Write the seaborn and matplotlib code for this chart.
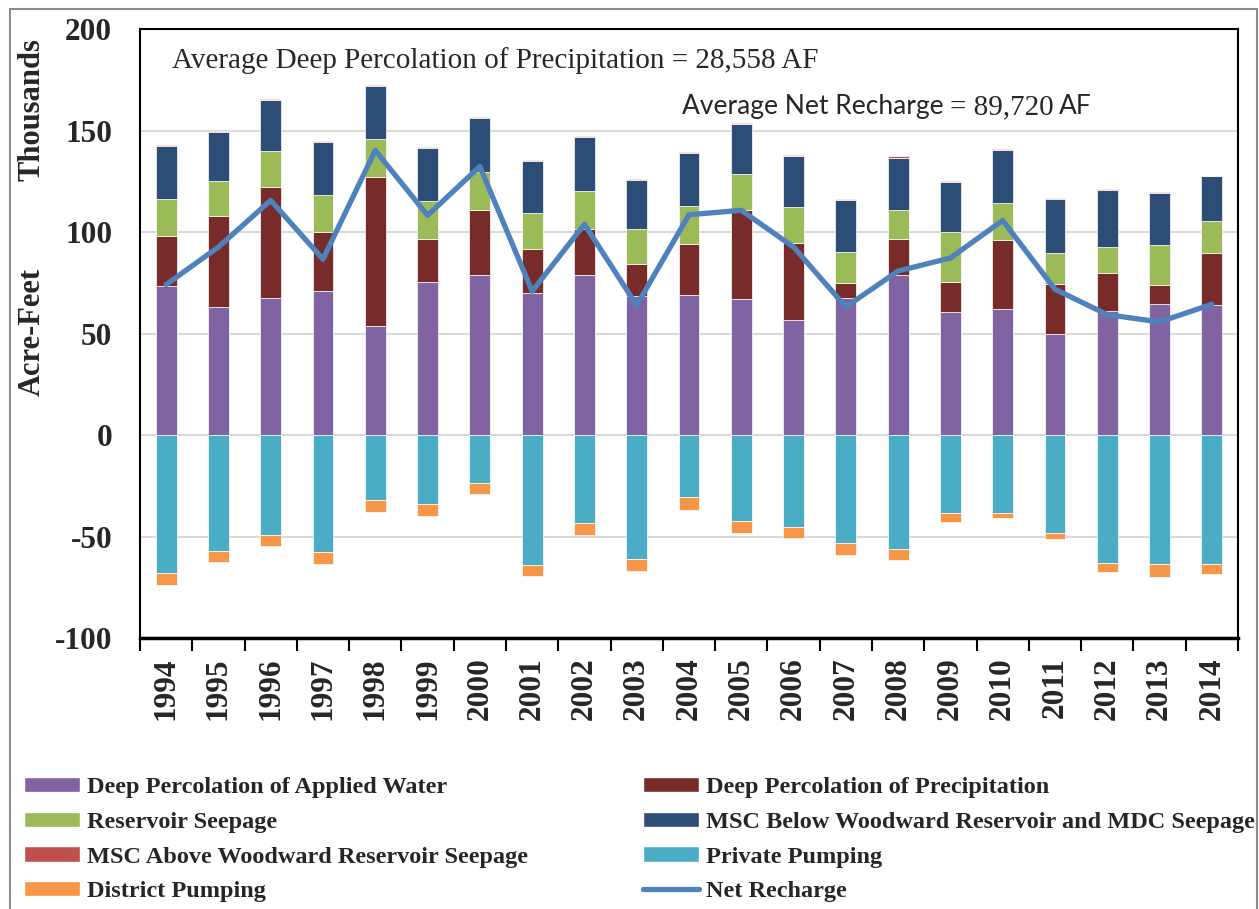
import numpy as np
import pandas as pd
import seaborn as sns
import matplotlib
matplotlib.use("Agg")
from matplotlib import pyplot as plt
from matplotlib.patches import Patch, Rectangle
from matplotlib.lines import Line2D

# values in thousands of acre-feet
years = [str(y) for y in range(1994, 2015)]

applied_water = [73.3, 63.3, 67.4, 71.1, 53.9, 75.2, 78.7, 70.1, 78.7, 68.4, 69.2,
                 67.0, 56.6, 67.7, 78.7, 60.5, 62.0, 49.7, 61.0, 64.4, 64.1]
precipitation = [24.7, 44.4, 54.7, 28.7, 73.1, 21.2, 32.1, 21.4, 22.6, 15.9, 24.9,
                 43.7, 38.0, 7.2, 17.7, 15.1, 33.9, 24.7, 18.8, 9.5, 25.6]
reservoir_seepage = [18.4, 17.2, 17.7, 18.6, 18.6, 18.7, 18.9, 18.0, 18.9, 17.2, 18.7,
                     17.8, 17.9, 15.1, 14.4, 24.2, 18.4, 15.1, 12.8, 19.9, 15.5]
msc_below = [25.9, 24.3, 25.1, 25.9, 26.2, 26.4, 26.4, 25.4, 26.5, 24.2, 26.2,
             24.8, 25.0, 25.9, 25.9, 25.0, 26.0, 26.9, 28.2, 25.2, 22.3]
msc_above = [0.4, 0.5, 0.5, 0.5, 0.7, 0.5, 0.4, 0.5, 0.6, 0.5, 0.5,
             0.5, 0.6, 0.5, 0.5, 0.5, 0.6, 0.5, 0.5, 0.5, 0.3]
private_pumping = [-68.0, -57.0, -49.2, -57.7, -32.1, -34.1, -23.6, -63.8, -43.4, -61.1, -30.5,
                   -42.3, -45.2, -53.1, -56.1, -38.2, -38.2, -48.4, -63.1, -63.4, -63.4]
district_pumping = [-5.8, -5.6, -5.6, -5.7, -5.6, -5.9, -5.6, -5.7, -5.9, -5.8, -6.2,
                    -6.1, -5.3, -6.1, -5.7, -4.8, -2.9, -2.6, -4.4, -6.3, -5.3]
net_recharge = [74.1, 92.6, 115.6, 86.6, 140.2, 108.2, 132.3, 70.8, 103.8, 63.9, 108.5,
                110.7, 92.6, 63.1, 80.8, 87.2, 105.7, 71.8, 59.3, 55.7, 64.4]

labels = ["Deep Percolation of Applied Water",
          "Deep Percolation of Precipitation",
          "Reservoir Seepage",
          "MSC Below Woodward Reservoir and MDC Seepage",
          "MSC Above Woodward Reservoir Seepage",
          "Private Pumping",
          "District Pumping"]
colors = ["#8064A2", "#772C2A", "#9BBB59", "#2C4D75", "#C0504D", "#4BACC6", "#F79646"]
line_color = "#4F81BD"

sns.set_theme(style="white")
plt.rcParams['font.family'] = ['Liberation Serif', 'DejaVu Serif']
plt.rcParams['axes.unicode_minus'] = False

df = pd.DataFrame({
    labels[0]: applied_water,
    labels[1]: precipitation,
    labels[2]: reservoir_seepage,
    labels[3]: msc_below,
    labels[4]: msc_above,
    labels[5]: private_pumping,
    labels[6]: district_pumping,
}, index=years)

fig = plt.figure(figsize=(12.59, 9.09), dpi=100)
ax = fig.add_axes([0.1112, 0.2981, 0.8721, 0.6700])
ax.set_axisbelow(True)

# stacked bars, pandas stacks the negative pumping below zero on its own
df.plot(kind='bar', stacked=True, ax=ax, width=0.4, color=colors,
        edgecolor='white', linewidth=0.5, legend=False)
sns.lineplot(x=np.arange(len(years)), y=net_recharge, ax=ax,
             color=line_color, linewidth=3.8, zorder=5)
if ax.get_legend() is not None:
    ax.get_legend().remove()

ax.set_xlim(-0.5, len(years) - 0.5)
ax.set_ylim(-100, 200)
ax.set_yticks(range(-100, 201, 50))
ax.set_yticklabels([str(v) for v in range(-100, 201, 50)], fontsize=22.5, fontweight='bold')
ax.yaxis.grid(True, color='#D9D9D9', linewidth=1.5)
ax.xaxis.grid(False)

ax.set_xticks(range(len(years)))
ax.set_xticklabels(years, rotation=90, fontsize=22.5, fontweight='bold')
ax.set_xticks(np.arange(-0.5, len(years), 1), minor=True)
ax.tick_params(axis='x', which='major', length=0, pad=14)
ax.tick_params(axis='x', which='minor', bottom=True, length=9, width=1.5,
               color='black', direction='out')
ax.tick_params(axis='y', length=0, pad=20)
ax.set_xlabel('')
ax.set_ylabel('')

for s in ax.spines.values():
    s.set_visible(True)
    s.set_color('black')
    s.set_linewidth(1.5)
ax.spines['bottom'].set_linewidth(2.5)

fig.text(32 / 1259, 1 - 110 / 909, 'Thousands', rotation=90, ha='center', va='center',
         fontsize=22, fontweight='bold')
fig.text(32 / 1259, 1 - 332 / 909, 'Acre-Feet', rotation=90, ha='center', va='center',
         fontsize=22, fontweight='bold')

# annotations
ax.text(0.029, 0.9355, 'Average Deep Percolation of Precipitation = 28,558 AF',
        transform=ax.transAxes, fontsize=21, ha='left', va='baseline')
t1 = ax.text(0.4936, 0.860, 'Average Net Recharge', transform=ax.transAxes,
             fontsize=19, family='Lato', ha='left', va='baseline')
fig.canvas.draw()
x_px = t1.get_window_extent().x1 + 6
x_ax = ax.transAxes.inverted().transform((x_px, 0))[0]
t2 = ax.text(x_ax, 0.860, '= 89,720', transform=ax.transAxes,
             fontsize=21, ha='left', va='baseline')
fig.canvas.draw()
x_px = t2.get_window_extent().x1 + 6
x_ax = ax.transAxes.inverted().transform((x_px, 0))[0]
ax.text(x_ax, 0.860, 'AF', transform=ax.transAxes,
        fontsize=19, family='Lato', ha='left', va='baseline')

# legend, two columns filled row by row
patches = [Patch(facecolor=c, label=l) for c, l in zip(colors, labels)]
net_line = Line2D([0], [0], color=line_color, linewidth=3.8, label='Net Recharge')
order = [patches[0], patches[2], patches[4], patches[6],
         patches[1], patches[3], patches[5], net_line]
fig.legend(handles=order, loc='upper left', ncol=2, mode='expand',
           bbox_to_anchor=(24 / 1259, 1 - 786 / 909, 1231 / 1259, 0.01),
           frameon=False, prop={'weight': 'bold', 'size': 17.5},
           handlelength=2.3, handleheight=0.6, handletextpad=0.3,
           labelspacing=0.55, borderaxespad=0, borderpad=0)

fig.add_artist(Rectangle((10 / 1259, -0.01), 1247 / 1259, 1 - 9 / 909 + 0.01,
                         transform=fig.transFigure, fill=False,
                         edgecolor='#8C8C8C', linewidth=1.5))

fig.savefig('out.png', dpi=100)
